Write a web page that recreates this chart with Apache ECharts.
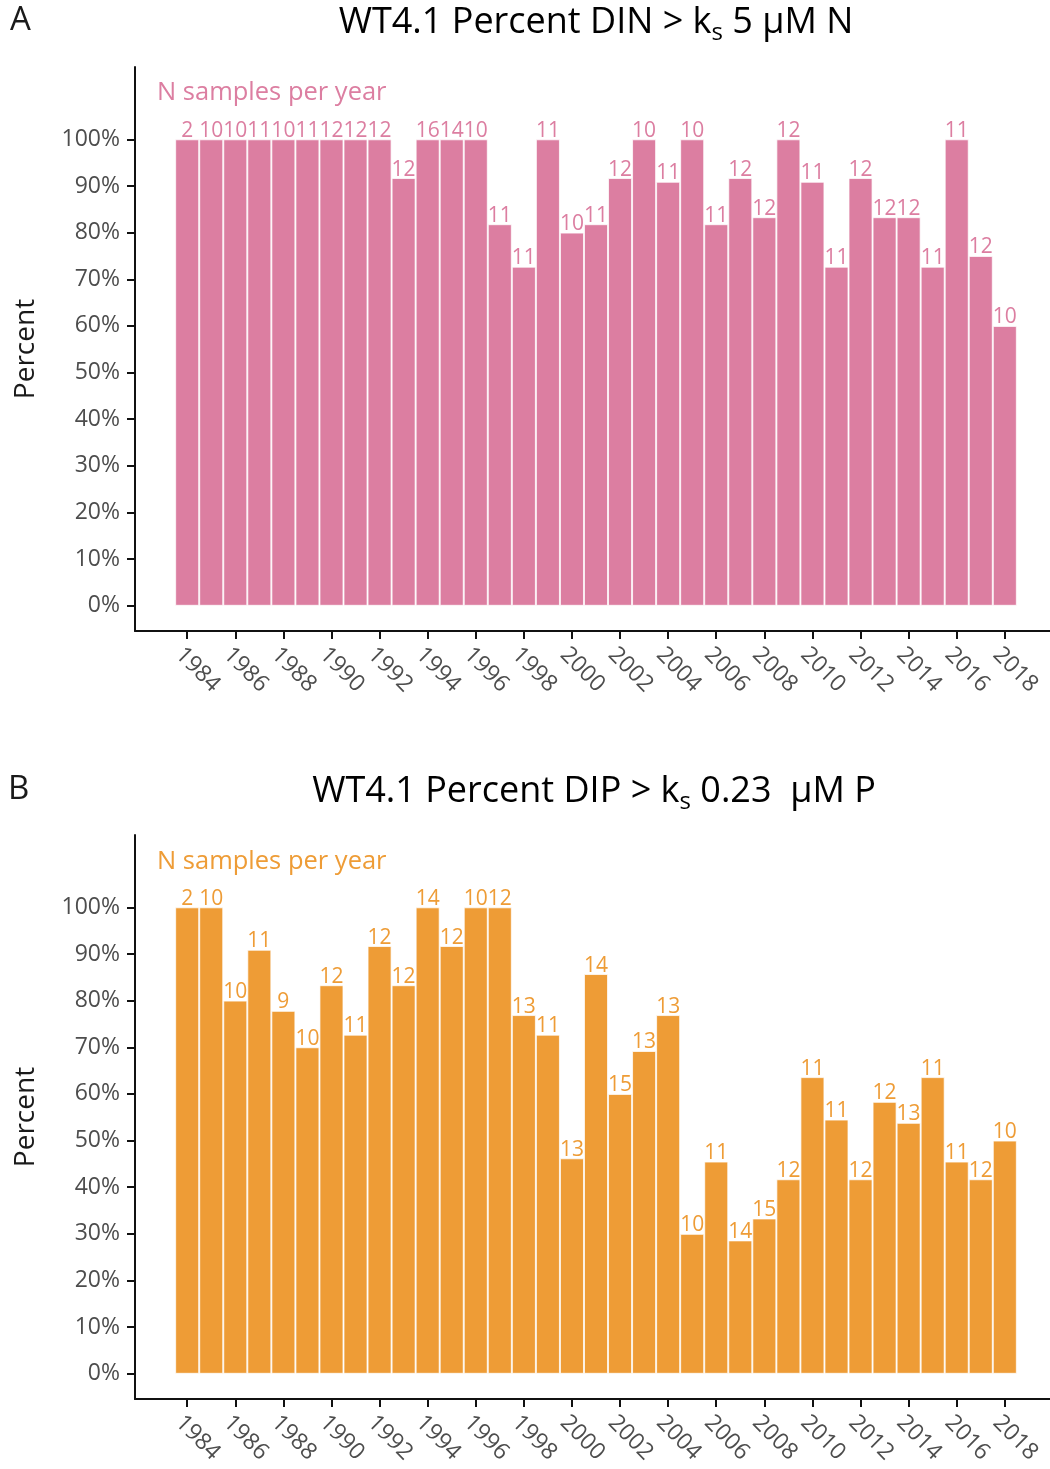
<!DOCTYPE html>
<html>
<head>
<meta charset="utf-8">
<title>WT4.1 nutrient exceedance</title>
<script src="https://cdn.jsdelivr.net/npm/echarts@6/dist/echarts.min.js"></script>
<style>
  html, body { margin: 0; padding: 0; background: #ffffff; }
  #chart { width: 1050px; height: 1469px; }
</style>
</head>
<body>
<div id="chart"></div>
<script>
// Sampling years at station WT4.1
const years = [1984, 1985, 1986, 1987, 1988, 1989, 1990, 1991, 1992, 1993, 1994, 1995,
  1996, 1997, 1998, 1999, 2000, 2001, 2002, 2003, 2004, 2005, 2006, 2007, 2008, 2009,
  2010, 2011, 2012, 2013, 2014, 2015, 2016, 2017, 2018];

// Panel A: percent of samples with DIN above the 5 µM N half-saturation constant
const dinPercent = [100, 100, 100, 100, 100, 100, 100, 100, 100, 91.7, 100, 100,
  100, 81.8, 72.7, 100, 80, 81.8, 91.7, 100, 90.9, 100, 81.8, 91.7, 83.3, 100,
  90.9, 72.7, 91.7, 83.3, 83.3, 72.7, 100, 75, 60];
const dinSamples = [2, 10, 10, 11, 10, 11, 12, 12, 12, 12, 16, 14,
  10, 11, 11, 11, 10, 11, 12, 10, 11, 10, 11, 12, 12, 12,
  11, 11, 12, 12, 12, 11, 11, 12, 10];

// Panel B: percent of samples with DIP above the 0.23 µM P half-saturation constant
const dipPercent = [100, 100, 80, 90.9, 77.8, 70, 83.3, 72.7, 91.7, 83.3, 100, 91.7,
  100, 100, 76.9, 72.7, 46.2, 85.7, 60, 69.2, 76.9, 30, 45.5, 28.6, 33.3, 41.7,
  63.6, 54.5, 41.7, 58.3, 53.8, 63.6, 45.5, 41.7, 50];
const dipSamples = [2, 10, 10, 11, 9, 10, 12, 11, 12, 12, 14, 12,
  10, 12, 13, 11, 13, 14, 15, 13, 13, 10, 11, 14, 15, 12,
  11, 11, 12, 12, 13, 11, 11, 12, 10];

// Axis tick labels
const yearTicks = [1984, 1986, 1988, 1990, 1992, 1994, 1996, 1998, 2000, 2002,
  2004, 2006, 2008, 2010, 2012, 2014, 2016, 2018];
const percentTicks = [0, 10, 20, 30, 40, 50, 60, 70, 80, 90, 100];

const FONT = '"Open Sans", "DejaVu Sans", sans-serif';
const PINK = '#dc7ea1';
const ORANGE = '#ee9c36';
const TEXT_DARK = '#1a1a1a';
const TICK_GREY = '#4d4d4d';

function pairs(values) {
  return years.map((y, i) => [y, values[i]]);
}

function xAxisFor(gridIndex) {
  return {
    type: 'value',
    gridIndex: gridIndex,
    min: 1981.83,
    max: 2020.17,
    splitLine: { show: false },
    axisLine: { show: true, onZero: false, lineStyle: { color: '#111', width: 2 } },
    axisTick: { show: true, length: 8, customValues: yearTicks, lineStyle: { color: '#111', width: 2 } },
    axisLabel: {
      customValues: yearTicks,
      rotate: -45,
      margin: 12,
      verticalAlign: 'top',
      color: TICK_GREY,
      fontFamily: FONT,
      fontSize: 23,
      formatter: v => String(v)
    }
  };
}

function yAxisFor(gridIndex) {
  return {
    type: 'value',
    gridIndex: gridIndex,
    min: -5.4,
    max: 115.5,
    splitLine: { show: false },
    name: 'Percent',
    nameLocation: 'middle',
    nameGap: 95,
    nameTextStyle: { color: TEXT_DARK, fontFamily: FONT, fontSize: 28 },
    axisLine: { show: true, onZero: false, lineStyle: { color: '#111', width: 2 } },
    axisTick: { show: true, length: 8, customValues: percentTicks, lineStyle: { color: '#111', width: 2 } },
    axisLabel: {
      customValues: percentTicks,
      margin: 15,
      color: TICK_GREY,
      fontFamily: FONT,
      fontSize: 23,
      formatter: v => v + '%'
    }
  };
}

function barSeries(index, values, samples, color) {
  return {
    type: 'bar',
    xAxisIndex: index,
    yAxisIndex: index,
    data: pairs(values),
    barWidth: '100%',
    itemStyle: { color: color, borderColor: 'rgba(255,255,255,0.75)', borderWidth: 1 },
    label: {
      show: true,
      position: 'top',
      distance: -2,
      color: color,
      fontFamily: FONT,
      fontSize: 21,
      formatter: p => String(samples[p.dataIndex])
    },
    silent: true,
    animation: false
  };
}

function titleText(x, y, main, rest) {
  return {
    type: 'text',
    x: x,
    y: y,
    style: {
      text: '{m|' + main + '}{s|s}{m|' + rest + '}',
      align: 'center',
      verticalAlign: 'middle',
      rich: {
        m: { fontFamily: FONT, fontSize: 36, color: TEXT_DARK, lineHeight: 44, verticalAlign: 'middle' },
        s: { fontFamily: FONT, fontSize: 24, color: TEXT_DARK, lineHeight: 44, verticalAlign: 'bottom' }
      }
    }
  };
}

const chart = echarts.init(document.getElementById('chart'), null, { renderer: 'canvas' });

chart.setOption({
  animation: false,
  backgroundColor: '#ffffff',
  grid: [
    { left: 135, top: 67, width: 922, height: 564, outerBoundsMode: 'none', containLabel: false },
    { left: 135, top: 835, width: 922, height: 564, outerBoundsMode: 'none', containLabel: false }
  ],
  xAxis: [xAxisFor(0), xAxisFor(1)],
  yAxis: [yAxisFor(0), yAxisFor(1)],
  series: [
    barSeries(0, dinPercent, dinSamples, PINK),
    barSeries(1, dipPercent, dipSamples, ORANGE)
  ],
  graphic: [
    { type: 'text', x: 10, y: 21, style: { text: 'A', fontFamily: FONT, fontSize: 33, fill: TEXT_DARK, verticalAlign: 'middle' } },
    { type: 'text', x: 8, y: 790, style: { text: 'B', fontFamily: FONT, fontSize: 33, fill: TEXT_DARK, verticalAlign: 'middle' } },
    titleText(596, 23, 'WT4.1 Percent DIN > k', ' 5 μM N'),
    titleText(594, 792, 'WT4.1 Percent DIP > k', ' 0.23  μM P'),
    { type: 'text', x: 157, y: 93, style: { text: 'N samples per year', fontFamily: FONT, fontSize: 25.5, fill: PINK, verticalAlign: 'middle' } },
    { type: 'text', x: 157, y: 862, style: { text: 'N samples per year', fontFamily: FONT, fontSize: 25.5, fill: ORANGE, verticalAlign: 'middle' } }
  ]
});
</script>
</body>
</html>
